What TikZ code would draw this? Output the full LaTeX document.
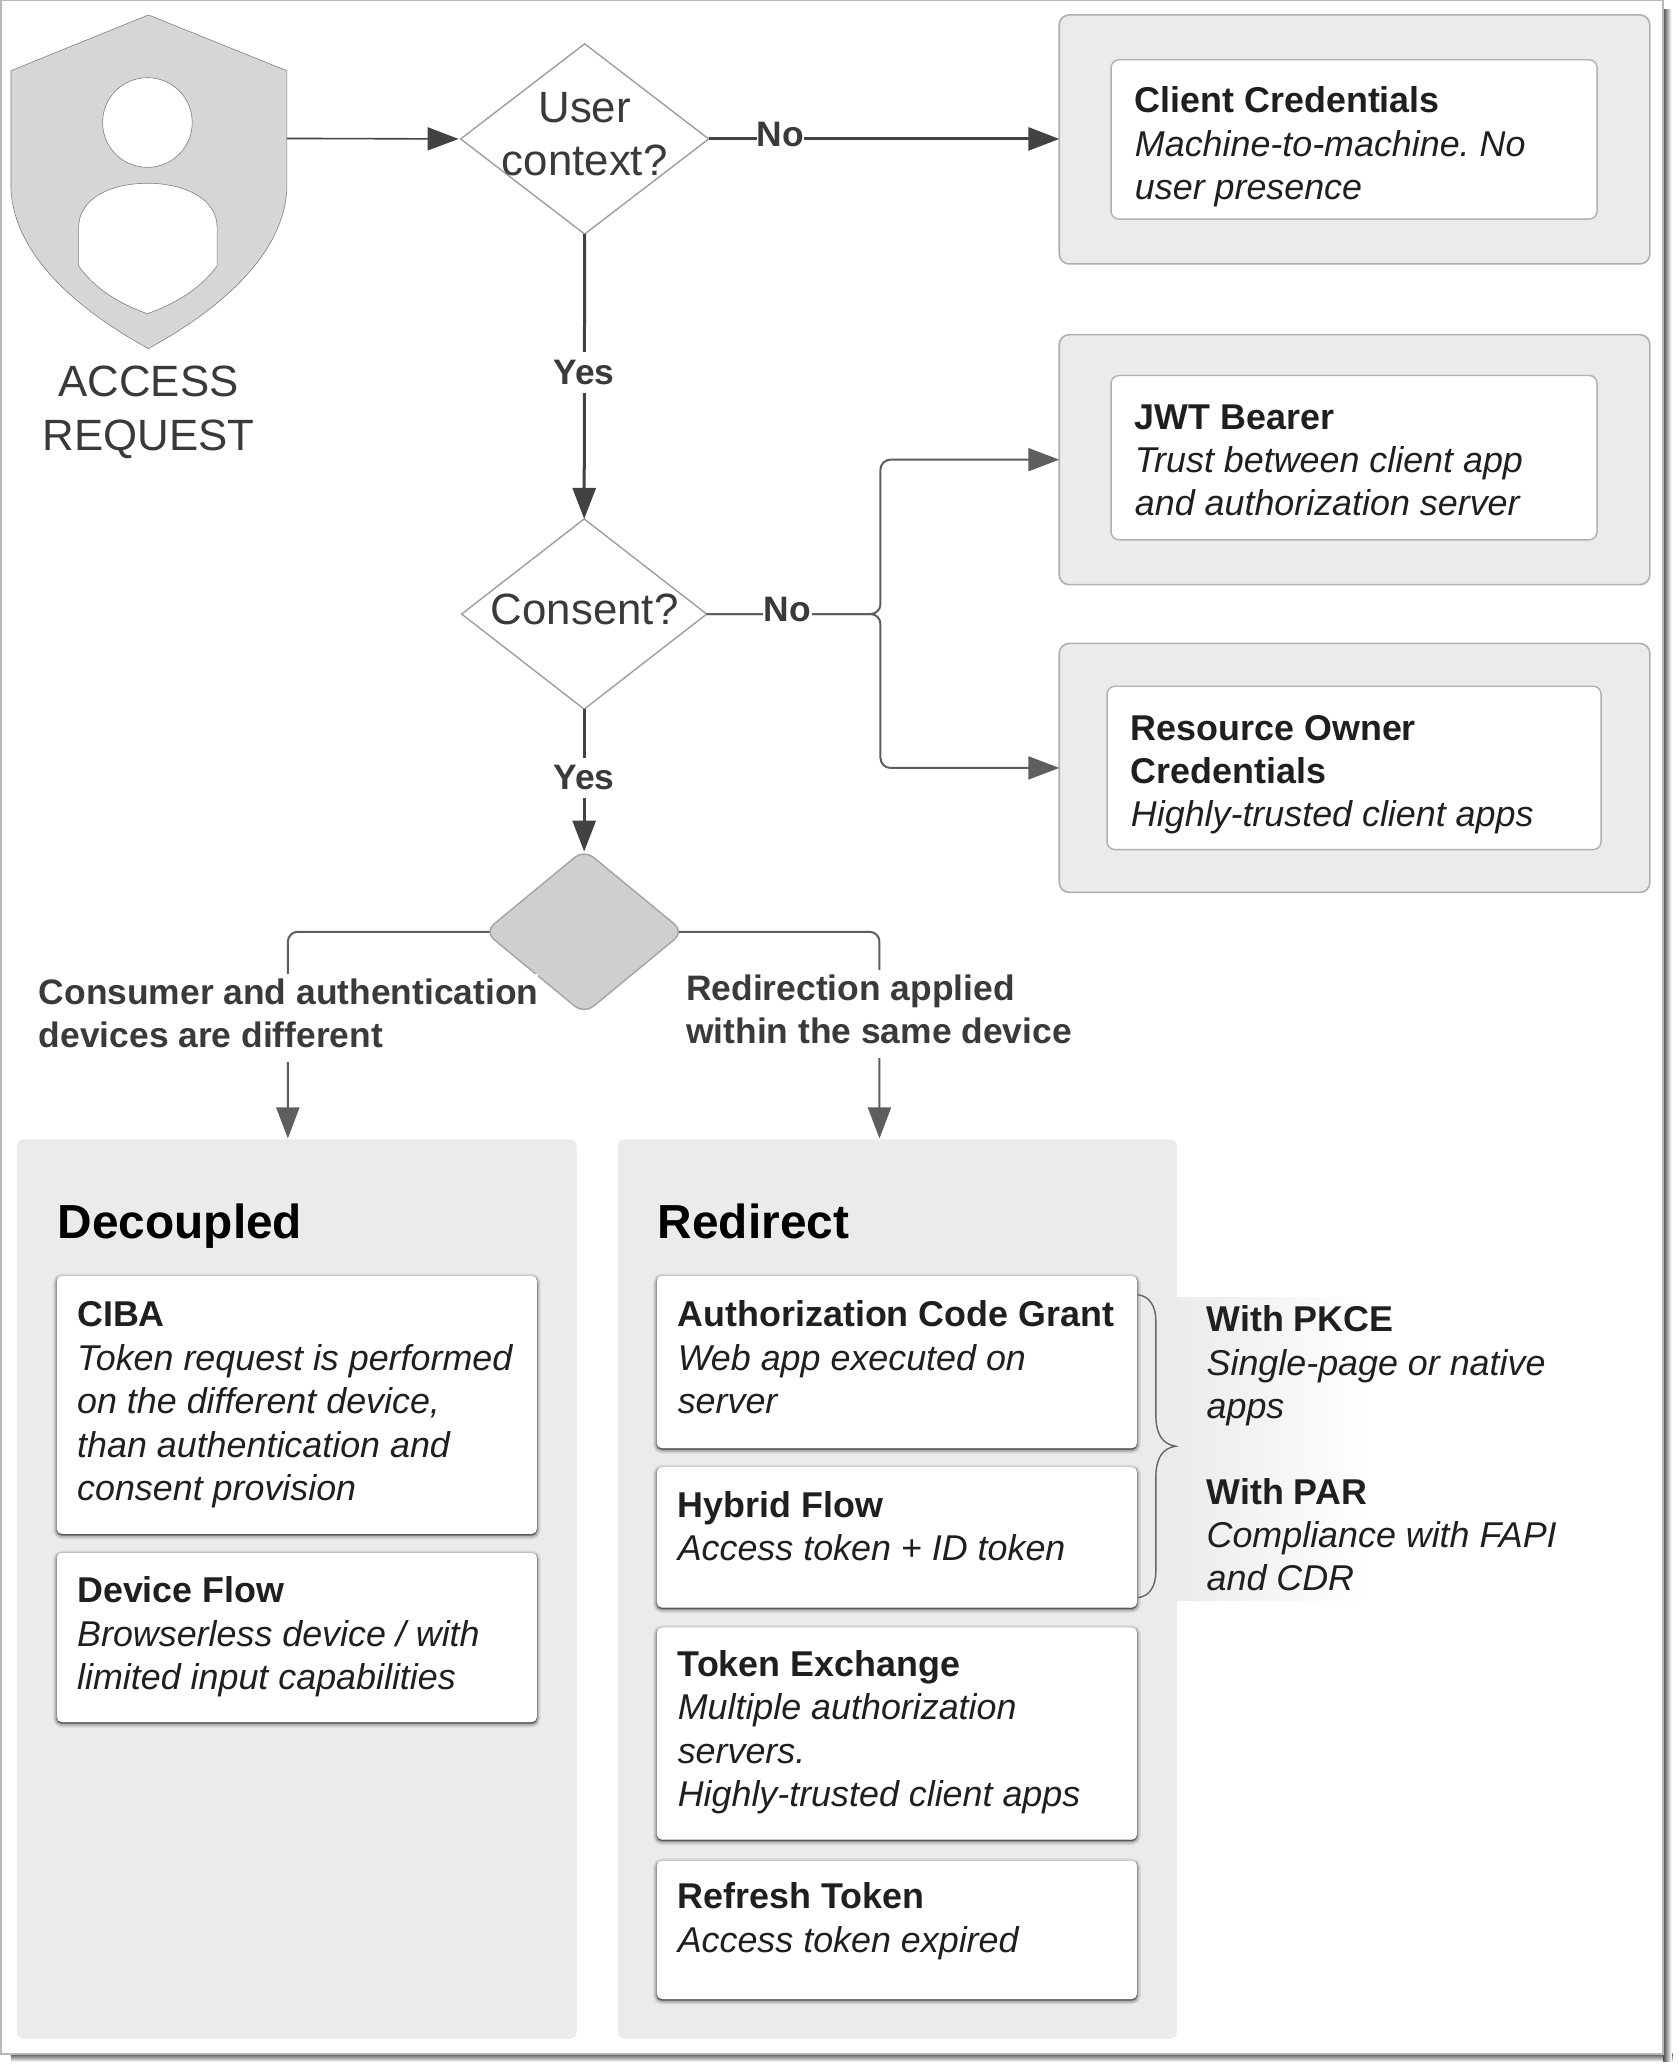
\documentclass[tikz,border=0pt]{standalone}
\usepackage{fontspec}
\setmainfont{Liberation Sans}
\usetikzlibrary{shapes.geometric,arrows.meta,shadows}
\definecolor{ink}{HTML}{3A3A3A}
\definecolor{lineg}{HTML}{424242}
\definecolor{panelg}{HTML}{EBEBEB}
\definecolor{edgeg}{HTML}{B0B0B0}
\newcommand{\bx}[6]{%
  \pgfmathsetmacro\cxx{(#3+#5)/2}\pgfmathsetmacro\cyy{(#4+#6)/2}%
  \pgfmathsetmacro\ww{(#5-#3)*0.49805}\pgfmathsetmacro\hh{(#6-#4)*0.49805}%
  \node[#2,minimum width=\ww pt,minimum height=\hh pt] (#1) at (\cxx,\cyy) {};}
\newcommand{\tx}[4]{\node[txt] (#1) at (#2,#3-30) {\rule{0pt}{14.94pt}#4};}
\newcommand{\ct}[4]{\node[ctxt] (#1) at (#2,#3-40) {\rule{0pt}{19.92pt}#4};}
\tikzset{
  every node/.style={inner sep=0pt,outer sep=0pt},
  txt/.style={anchor=north west,align=left,text=black!88,font=\fontsize{17.93pt}{21.67pt}\selectfont\frenchspacing},
  ctxt/.style={anchor=north,align=center,text=ink,font=\fontsize{21.9pt}{26.9pt}\selectfont},
  lbl/.style={fill=white,text=ink,font=\fontsize{17.7pt}{21.75pt}\selectfont\bfseries},
  outerbox/.style={draw=edgeg,line width=0.8pt,fill=panelg,rounded corners=5pt},
  innerbox/.style={draw=edgeg,line width=0.7pt,fill=white,rounded corners=4pt},
  panel/.style={fill=panelg,rounded corners=3.5pt},
  card/.style={fill=white,rounded corners=2.5pt,
    general shadow={shadow xshift=0pt,shadow yshift=-0.8pt,draw=black,line width=3.8pt,opacity=.08,fill=black},
    general shadow={shadow xshift=0pt,shadow yshift=-0.8pt,draw=black,line width=2.2pt,opacity=.15,fill=black},
    general shadow={shadow xshift=0pt,shadow yshift=-0.6pt,draw=black,line width=0.9pt,opacity=.22,fill=black}},
  deci/.style={diamond,draw=black!38,line width=0.7pt,fill=white},
  tip/.style={-{Triangle[length=15.5pt,width=11.5pt]}},
  thin link/.style={draw=lineg,line width=0.8pt},
  thick link/.style={draw=lineg,line width=1.5pt},
  elbow/.style={draw=lineg!85,line width=1pt,rounded corners=5pt},
}
\begin{document}
\begin{tikzpicture}[x=0.49805pt,y=-0.49805pt]
\useasboundingbox (0,0) rectangle (1685.6,2077.3);
\fill[white] (0,0) rectangle (1685.6,2077.3);
% page shadow and frame
\shade[top color=black!68,bottom color=white] (11,2062) rectangle (1679,2070);
\shade[left color=black!68,right color=white] (1670,10) rectangle (1678,2070);
\draw[draw=black!28,line width=0.9pt] (1,0.5) rectangle (1670,2062);
% shield
\draw[draw=black!50,line width=0.3pt,fill=black!16,even odd rule]
  (149,15) -- (288,71) -- (288,190) .. controls (285,250) and (231,305) .. (149,350)
  .. controls (67,305) and (14,250) .. (11,190) -- (11,71) -- cycle
  (148,78) .. controls (173,78) and (193,98) .. (193,123) .. controls (193,148) and (173,168) .. (148,168)
  .. controls (123,168) and (103,148) .. (103,123) .. controls (103,98) and (123,78) .. (148,78)
  (148,184) .. controls (186,184) and (218,200) .. (218,228) -- (218,267)
  .. controls (201,290) and (176,305) .. (148,315) .. controls (120,305) and (95,290) .. (79,267)
  -- (79,228) .. controls (79,200) and (110,184) .. (148,184);
\coordinate (shieldR) at (288,139);
\ct{req}{149}{398}{ACCESS\\REQUEST}
% right boxes
\bx{o1}{outerbox}{1063.5}{15}{1656.5}{265}
\bx{i1}{innerbox}{1115.5}{60}{1603.5}{220}
\bx{o2}{outerbox}{1063.5}{336}{1656.5}{587}
\bx{i2}{innerbox}{1115.5}{377}{1603.5}{542}
\bx{o3}{outerbox}{1063.5}{646}{1656.5}{896}
\bx{i3}{innerbox}{1111.5}{689}{1607.5}{853}
\tx{t1}{1139.5}{113.3}{\textbf{Client Credentials}\\\textit{Machine-to-machine. No}\\\textit{user presence}}
\tx{t2}{1139.5}{431}{\textbf{JWT Bearer}\\\textit{Trust between client app}\\\textit{and authorization server}}
\tx{t3}{1135.5}{743}{\textbf{Resource Owner}\\\textbf{Credentials}\\\textit{Highly-trusted client apps}}
% big panels
\bx{pd}{panel}{17}{1144}{579}{2047}
\bx{pr}{panel}{620}{1144}{1181.5}{2047}
\node[anchor=base west,text=black,font=\fontsize{23.9pt}{28pt}\selectfont\bfseries] (td) at (58,1243) {Decoupled};
\node[anchor=base west,text=black,font=\fontsize{23.9pt}{28pt}\selectfont\bfseries] (tr) at (660.5,1243) {Redirect};
% gradient side note
\shade[left color=panelg,right color=white] (1181.5,1303) rectangle (1375,1607);
% cards
\bx{c1}{card}{57}{1281}{539}{1540}
\bx{c2}{card}{57}{1559}{539}{1729}
\bx{c3}{card}{659.5}{1281}{1141.5}{1454}
\bx{c4}{card}{659.5}{1473}{1141.5}{1614}
\bx{c5}{card}{659.5}{1634}{1141.5}{1847}
\bx{c6}{card}{659.5}{1868}{1141.5}{2007}
\tx{x1}{77.5}{1332.3}{\textbf{CIBA}\\\textit{Token request is performed}\\\textit{on the different device,}\\\textit{than authentication and}\\\textit{consent provision}}
\tx{x2}{77.5}{1609.3}{\textbf{Device Flow}\\\textit{Browserless device / with}\\\textit{limited input capabilities}}
\tx{x3}{680.5}{1332.3}{\textbf{Authorization Code Grant}\\\textit{Web app executed on}\\\textit{server}}
\tx{x4}{680.5}{1523.3}{\textbf{Hybrid Flow}\\\textit{Access token + ID token}}
\tx{x5}{680.5}{1683.3}{\textbf{Token Exchange}\\\textit{Multiple authorization}\\\textit{servers.}\\\textit{Highly-trusted client apps}}
\tx{x6}{680.5}{1916.3}{\textbf{Refresh Token}\\\textit{Access token expired}}
\tx{s1}{1211.5}{1337.3}{\textbf{With PKCE}\\\textit{Single-page or native}\\\textit{apps}}
\tx{s2}{1211.5}{1510.3}{\textbf{With PAR}\\\textit{Compliance with FAPI}\\\textit{and CDR}}
% brace
\coordinate (brT) at (1142.5,1300);
\coordinate (brM) at (1180.5,1452);
\coordinate (brB) at (1142.5,1604);
\draw[draw=black!60,line width=0.7pt]
  (brT) .. controls (1153.5,1301) and (1160.5,1311) .. (1160.5,1326) -- (1160.5,1421)
  .. controls (1160.5,1439) and (1166.5,1450) .. (brM)
  .. controls (1166.5,1454) and (1160.5,1465) .. (1160.5,1483) -- (1160.5,1578)
  .. controls (1160.5,1593) and (1153.5,1603) .. (brB);
% decisions
\bx{d1}{deci}{462.5}{44}{711.5}{235}
\bx{d2}{deci}{463.5}{521}{709.5}{712}
\bx{d3}{deci,fill=black!19,rounded corners=6pt,draw=black!36}{486.5}{853}{686.5}{1018}
\ct{d1t}{587}{122.5}{User\\context?}
\ct{d2t}{587}{627.3}{Consent?}
% connectors
\coordinate (trunk) at (884,616.5);
\coordinate (leftD) at (289,935.5);
\coordinate (rightD) at (883,935.5);
\draw[thin link,tip,shorten >=1pt] (shieldR) -- (d1.west);
\draw[thick link,tip] (d1.east) -- (o1.west |- d1.east);
\draw[thick link,tip,shorten >=0pt] (d1.south) -- (d2.north);
\draw[elbow,tip] (d2.east) -- (trunk) -- (trunk |- o2.west) -- (o2.west);
\draw[elbow,tip] (d2.east) -- (trunk) -- (trunk |- o3.west) -- (o3.west);
\draw[thick link,tip,shorten >=-1pt] (d2.south) -- (d3.north);
\draw[elbow,tip,shorten >=0.5pt,shorten <=-2.5pt] (d3.west) -- (leftD) -- (leftD |- pd.north);
\draw[elbow,tip,shorten >=0.5pt,shorten <=-2.5pt] (d3.east) -- (rightD) -- (rightD |- pr.north);
% connector labels
\node[lbl] (n1) at (783.5,135) {No};
\node[lbl,inner xsep=0.5pt] (n2) at (790.5,612) {No};
\node[lbl,inner ysep=4pt,inner xsep=1pt] (y1) at (586.5,374) {Yes};
\node[lbl,inner ysep=4pt,inner xsep=1pt] (y2) at (586.5,781) {Yes};
\node[lbl,anchor=north west,align=left,inner ysep=1pt] (ll) at (39,978.3) {\rule{0pt}{14pt}Consumer and authentication\\devices are different\rule[-6pt]{0pt}{1pt}};
\node[lbl,anchor=north west,align=left,inner ysep=1pt] (lr) at (689,974) {\rule{0pt}{14pt}Redirection applied\\within the same device\rule[-6pt]{0pt}{1pt}};
\end{tikzpicture}
\end{document}
